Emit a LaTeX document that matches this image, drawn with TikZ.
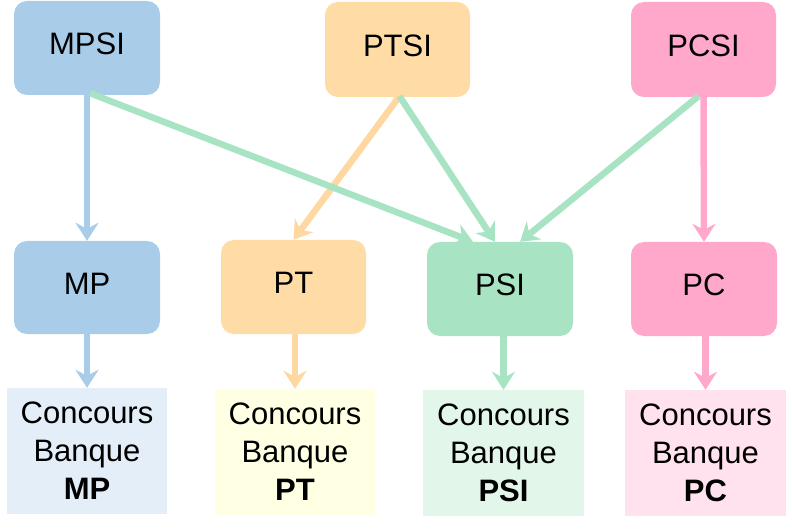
\documentclass[tikz,border=0pt]{standalone}
\usepackage{fontspec}
\setmainfont{Liberation Sans}
\usetikzlibrary{arrows.meta,calc}
\definecolor{cblue}{HTML}{A9CCE8}
\definecolor{corange}{HTML}{FFDCA6}
\definecolor{cpink}{HTML}{FFA8CC}
\definecolor{cgreen}{HTML}{A8E4C4}
\definecolor{lblue}{HTML}{E3EEF8}
\definecolor{lyellow}{HTML}{FFFFE3}
\definecolor{lgreen}{HTML}{E3F6EA}
\definecolor{lpink}{HTML}{FFE2EE}
\definecolor{aorange}{HTML}{FFD7A0}
\tikzset{
  filiere/.style={rounded corners=13pt, minimum width=146pt, minimum height=94pt, inner sep=0pt,
    text depth=8pt, font=\fontsize{31}{36}\selectfont, text=black},
  banque/.style={minimum width=160pt, minimum height=126pt, inner sep=0pt, align=center,
    font=\fontsize{31}{38}\selectfont, text=black},
  link/.style={line width=6.5pt, -{Stealth[length=18pt,width=23pt,inset=6pt]}}
}
\begin{document}
\begin{tikzpicture}[x=1pt,y=-1pt]
\useasboundingbox (0,0) rectangle (792,529);
\node[filiere, fill=cblue] (MPSI) at (87,48) {MPSI};
\node[filiere, fill=corange, minimum width=145pt, minimum height=95pt] (PTSI) at (397.5,49.5) {PTSI};
\node[filiere, fill=cpink, minimum width=145pt, minimum height=95pt] (PCSI) at (703.5,49.5) {PCSI};
\node[filiere, fill=cblue, minimum height=93pt] (MP) at (87,287.5) {MP};
\node[filiere, fill=corange, minimum width=145pt] (PT) at (293.5,287) {PT};
\node[filiere, fill=cgreen] (PSI) at (500,289) {PSI};
\node[filiere, fill=cpink] (PC) at (704,289) {PC};
\node[banque, fill=lblue] (CMP) at (87,451) {Concours\\Banque\\\textbf{MP}};
\node[banque, fill=lyellow] (CPT) at (295,452) {Concours\\Banque\\\textbf{PT}};
\node[banque, fill=lgreen, minimum width=161pt] (CPSI) at (503.5,453) {Concours\\Banque\\\textbf{PSI}};
\node[banque, fill=lpink, minimum width=161pt] (CPC) at (705.5,453) {Concours\\Banque\\\textbf{PC}};
% arrows top to middle
\draw[link, cblue] ($(MPSI.south)+(0,-2)$) -- (MP.north);
\draw[link, aorange] ($(PTSI.south)+(2,-1)$) -- (PT.north);
\draw[link, cgreen] ($(MPSI.south)+(3,-2)$) -- ($(PSI.north)+(-27,0)$);
\draw[link, cgreen] ($(PTSI.south)+(2,-1)$) -- ($(PSI.north)+(-5,0)$);
\draw[link, cgreen] ($(PCSI.south)+(-5,-1)$) -- ($(PSI.north)+(20,0)$);
\draw[link, cpink] (PCSI.south) -- (PC.north);
% arrows middle to bottom
\draw[link, cblue] (MP.south) -- (CMP.north);
\draw[link, aorange] (PT.south -| CPT.north) -- (CPT.north);
\draw[link, cgreen] (PSI.south -| CPSI.north) -- (CPSI.north);
\draw[link, cpink] (PC.south -| CPC.north) -- (CPC.north);
\end{tikzpicture}
\end{document}
